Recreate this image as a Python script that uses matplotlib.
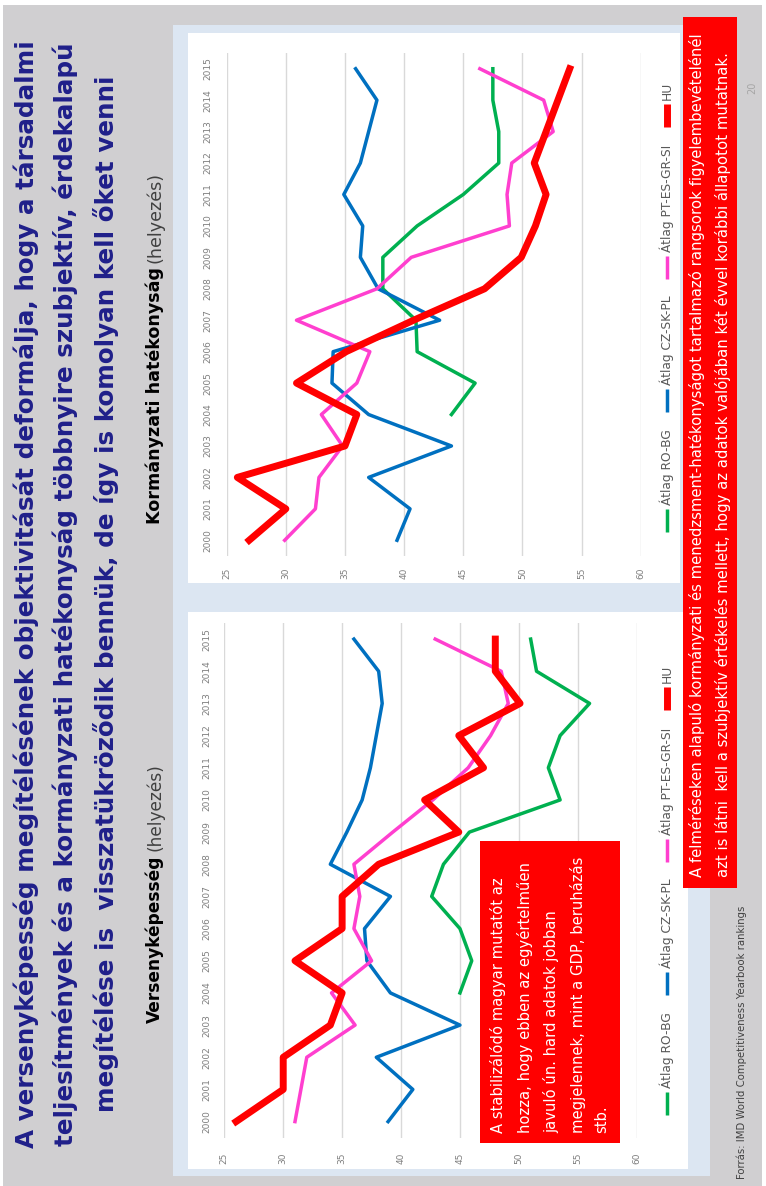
import numpy as np
import matplotlib
matplotlib.use('Agg')
import matplotlib.pyplot as plt
from matplotlib.patches import Rectangle
from matplotlib.lines import Line2D
from matplotlib import font_manager

W, H = 766, 1186
nan = np.nan

years = list(range(2000, 2016))
rank_ticks = [25, 30, 35, 40, 45, 50, 55, 60]
series_names = ['Átlag RO-BG', 'Átlag CZ-SK-PL', 'Átlag PT-ES-GR-SI', 'HU']
series_colors = ['#00b050', '#0070c0', '#ff3fcf', '#ff0000']
series_widths = [2.5, 2.5, 2.5, 5.0]

# Kormányzati hatékonyság (felső ábra)
gov_ro = [nan, nan, nan, nan, 44.0, 46.0, 41.1, 41.0, 38.2, 38.2, 41.1, 45.0, 48.0, 48.0, 47.5, 47.5]
gov_cz = [39.4, 40.5, 37.0, 44.0, 37.0, 33.9, 34.0, 43.0, 37.8, 36.3, 36.5, 34.9, 36.3, 37.0, 37.7, 35.9]
gov_pt = [29.9, 32.5, 32.8, 34.8, 33.0, 36.0, 37.1, 30.9, 37.7, 40.6, 48.9, 48.7, 49.1, 52.6, 51.8, 46.4]
gov_hu = [26.9, 30.0, 25.9, 35.0, 36.0, 30.9, 35.1, 40.8, 46.8, 49.9, 51.1, 52.0, 51.0, 52.0, 53.0, 54.0]

# Versenyképesség (alsó ábra)
comp_ro = [nan, nan, nan, nan, 45.0, 46.0, 45.0, 42.6, 43.6, 45.8, 53.5, 52.5, 53.5, 56.0, 51.5, 51.0]
comp_cz = [38.9, 41.0, 37.9, 45.0, 39.1, 37.1, 36.9, 39.1, 34.0, 35.4, 36.7, 37.4, 37.9, 38.4, 38.1, 36.0]
comp_pt = [31.0, 31.5, 32.0, 36.1, 34.1, 37.5, 36.0, 36.5, 36.0, 39.3, 42.7, 45.7, 47.6, 49.1, 48.5, 42.9]
comp_hu = [26.0, 30.0, 30.0, 34.0, 35.0, 31.0, 35.0, 35.0, 38.1, 44.9, 42.0, 47.0, 44.9, 50.1, 48.0, 48.0]

title_lines = [
    'A versenyképesség megítélésének objektivitását deformálja, hogy a társadalmi',
    'teljesítmények és a kormányzati hatékonyság többnyire szubjektív, érdekalapú',
    'megítélése is  visszatükröződik bennük, de így is komolyan kell őket venni',
]
top_box_lines = [
    'A felméréseken alapuló kormányzati és menedzsment-hatékonyságot tartalmazó rangsorok figyelembevételénél',
    'azt is látni  kell a szubjektív értékelés mellett, hogy az adatok valójában két évvel korábbi állapotot mutatnak.',
]
bottom_box_lines = [
    'A stabilizálódó magyar mutatót az',
    'hozza, hogy ebben az egyértelműen',
    'javuló ún. hard adatok jobban',
    'megjelennek, mint a GDP, beruházás',
    'stb.',
]
source_text = 'Forrás: IMD World Competitiveness Yearbook rankings'


def pick_font(names):
    for n in names:
        try:
            font_manager.findfont(n, fallback_to_default=False)
            return n
        except ValueError:
            pass
    return 'DejaVu Sans'


narrow = pick_font(['Liberation Sans Narrow', 'DejaVu Sans'])
plt.rcParams['font.family'] = [narrow, 'DejaVu Sans']


def fx(x):
    return x / W


def fy(y):
    return 1 - y / H


fig = plt.figure(figsize=(W / 100, H / 100), dpi=100)
fig.patch.set_facecolor('white')
renderer = fig.canvas.get_renderer()


def rect(x0, y0, x1, y1, color, z):
    fig.add_artist(Rectangle((fx(x0), fy(y1)), (x1 - x0) / W, (y1 - y0) / H,
                             transform=fig.transFigure, facecolor=color,
                             edgecolor='none', zorder=z))


def fit(t, length):
    bb = t.get_window_extent(renderer)
    t.set_fontsize(t.get_fontsize() * length / bb.height)
    return t.get_fontsize()


def vtext(x, y, s, **kw):
    return fig.text(fx(x), fy(y), s, rotation=90, **kw)


# background, panels
rect(3, 5, 762, 1186, '#d0cfd1', -5)
rect(173, 25, 690, 600, '#dce6f2', -4)
rect(188, 33, 680, 583, 'white', -3)
rect(173, 600, 710, 1176, '#dce6f2', -4)
rect(188, 612, 688, 1169, 'white', -3)


def make_chart(left, right, top, bottom, data, xpad, ypad):
    ax = fig.add_axes([fx(left), fy(bottom), (right - left) / W, (bottom - top) / H])
    ax.patch.set_visible(False)
    for s in ax.spines.values():
        s.set_visible(False)
    ax.set_xlim(25, 60)
    ax.set_ylim(1999.5, 2015.5)
    ax.set_xticks(rank_ticks)
    ax.set_yticks(years)
    ax.grid(axis='x', color='#d9d9d9', lw=1)
    ax.set_axisbelow(True)
    ax.tick_params(length=0, labelsize=6.5, labelcolor='#7f7f7f', labelrotation=90)
    ax.tick_params(axis='x', pad=xpad)
    ax.tick_params(axis='y', pad=ypad)
    for lbl in ax.get_yticklabels():
        lbl.set_va('center')
    for vals, c, lw in zip(data, series_colors, series_widths):
        ax.plot(vals, years, color=c, lw=lw)
    return ax


make_chart(226.7, 640.7, 53, 556, [gov_ro, gov_cz, gov_pt, gov_hu], 8.5, 10.5)
make_chart(224.3, 636.7, 623, 1137.7, [comp_ro, comp_cz, comp_pt, comp_hu], 10.5, 9)


def legend(x, y_start):
    ts = []
    y = y_start
    size = None
    for name, c, lw in zip(series_names, series_colors, series_widths):
        fig.add_artist(Line2D([fx(x), fx(x)], [fy(y), fy(y - 23)], transform=fig.transFigure,
                              color=c, lw=lw, solid_capstyle='butt'))
        t = vtext(x, y - 27, name, ha='center', va='bottom', color='#595959', fontsize=7)
        if size is None:
            size = fit(t, 76)
        else:
            t.set_fontsize(size)
        length = t.get_window_extent(renderer).height
        y = y - 27 - length - 17
        ts.append(t)


legend(667, 532)
legend(667, 1115)

# title
tsize = None
for line, x in zip(title_lines, [26, 65, 106]):
    t = vtext(x, 594, line, ha='center', va='center', color='#1f1f8a',
              fontweight='bold', fontsize=18)
    if tsize is None:
        tsize = fit(t, 1112)
    else:
        t.set_fontsize(tsize)

# subtitles
for y0, bold, blen in [(524, 'Kormányzati hatékonyság', 256), (1023, 'Versenyképesség', 167)]:
    t = vtext(155, y0, bold, ha='center', va='bottom', color='black', fontweight='bold', fontsize=12)
    sz = fit(t, blen)
    vtext(155, y0 - blen - 5, '(helyezés)', ha='center', va='bottom', color='#404040', fontsize=sz)

# red boxes
rect(683, 17, 737, 888, '#ff0000', 2)
rect(480, 841, 620, 1143, '#ff0000', 2)

bsize = None
for line, x in zip(top_box_lines, [697, 723]):
    t = vtext(x, 877, line, ha='center', va='bottom', color='white', fontsize=10)
    if bsize is None:
        bsize = fit(t, 840)
    else:
        t.set_fontsize(bsize)

bsize = None
for line, x in zip(bottom_box_lines, [498, 525, 551, 578, 602]):
    t = vtext(x, 1133, line, ha='center', va='bottom', color='white', fontsize=10)
    if bsize is None:
        bsize = fit(t, 254)
    else:
        t.set_fontsize(bsize)

# source and page number
t = vtext(742, 1179, source_text, ha='center', va='bottom', color='#404040', fontsize=7)
fit(t, 275)
vtext(752, 88, '20', ha='center', va='center', color='#a6a6a6', fontsize=7)

fig.savefig('out.png', dpi=100)
